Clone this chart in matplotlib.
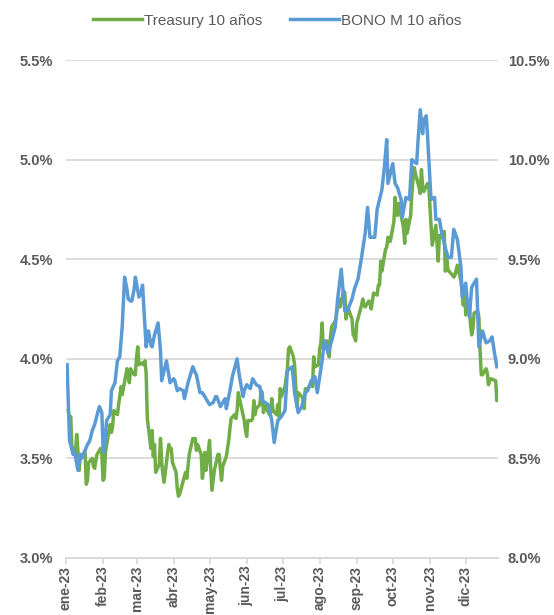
import matplotlib.pyplot as plt
from matplotlib.ticker import FuncFormatter
import pandas as pd

plt.rcParams['font.family'] = ['Liberation Sans', 'DejaVu Sans']
plt.rcParams['font.weight'] = 'bold'

# Treasury 10 años (eje izquierdo, %)
tsy_dates = [
    "01-03", "01-04", "01-05", "01-06", "01-09", "01-10", "01-11", "01-12", "01-13", "01-17",
    "01-18", "01-19", "01-20", "01-23", "01-24", "01-25", "01-26", "01-27", "01-30", "01-31",
    "02-01", "02-02", "02-03", "02-06", "02-07", "02-08", "02-09", "02-10", "02-13", "02-14",
    "02-15", "02-16", "02-17", "02-21", "02-22", "02-23", "02-24", "02-27", "02-28", "03-01",
    "03-02", "03-03", "03-06", "03-07", "03-08", "03-09", "03-10", "03-13", "03-14", "03-15",
    "03-16", "03-17", "03-20", "03-21", "03-22", "03-23", "03-24", "03-27", "03-28", "03-29",
    "03-30", "03-31", "04-03", "04-04", "04-05", "04-06", "04-10", "04-11", "04-12", "04-13",
    "04-14", "04-17", "04-18", "04-19", "04-20", "04-21", "04-24", "04-25", "04-26", "04-27",
    "04-28", "05-01", "05-02", "05-03", "05-04", "05-05", "05-08", "05-09", "05-10", "05-11",
    "05-12", "05-15", "05-16", "05-17", "05-18", "05-19", "05-22", "05-23", "05-24", "05-25",
    "05-26", "05-30", "05-31", "06-01", "06-02", "06-05", "06-06", "06-07", "06-08", "06-09",
    "06-12", "06-13", "06-14", "06-15", "06-16", "06-20", "06-21", "06-22", "06-23", "06-26",
    "06-27", "06-28", "06-29", "06-30", "07-03", "07-05", "07-06", "07-07", "07-10", "07-11",
    "07-12", "07-13", "07-14", "07-17", "07-18", "07-19", "07-20", "07-21", "07-24", "07-25",
    "07-26", "07-27", "07-28", "07-31", "08-01", "08-02", "08-03", "08-04", "08-07", "08-08",
    "08-09", "08-10", "08-11", "08-14", "08-15", "08-16", "08-17", "08-18", "08-21", "08-22",
    "08-23", "08-24", "08-25", "08-28", "08-29", "08-30", "08-31", "09-01", "09-05", "09-06",
    "09-07", "09-08", "09-11", "09-12", "09-13", "09-14", "09-15", "09-18", "09-19", "09-20",
    "09-21", "09-22", "09-25", "09-26", "09-27", "09-28", "09-29", "10-02", "10-03", "10-04",
    "10-05", "10-06", "10-10", "10-11", "10-12", "10-13", "10-16", "10-17", "10-18", "10-19",
    "10-20", "10-23", "10-24", "10-25", "10-26", "10-27", "10-30", "10-31", "11-01", "11-02",
    "11-03", "11-06", "11-07", "11-08", "11-09", "11-10", "11-13", "11-14", "11-15", "11-16",
    "11-17", "11-20", "11-21", "11-22", "11-24", "11-27", "11-28", "11-29", "11-30", "12-01",
    "12-04", "12-05", "12-06", "12-07", "12-08", "12-11", "12-12", "12-13", "12-14", "12-15",
    "12-18", "12-19", "12-20", "12-21", "12-22", "12-26", "12-27", "12-28",
]
tsy_values = [
    3.74, 3.69, 3.71, 3.56, 3.53, 3.62, 3.54, 3.44, 3.51, 3.53,
    3.37, 3.39, 3.48, 3.50, 3.46, 3.45, 3.49, 3.52, 3.55, 3.52,
    3.39, 3.40, 3.53, 3.64, 3.67, 3.63, 3.66, 3.74, 3.72, 3.77,
    3.81, 3.86, 3.82, 3.95, 3.92, 3.88, 3.95, 3.92, 3.92, 4.01,
    4.06, 3.97, 3.98, 3.97, 3.99, 3.93, 3.70, 3.55, 3.64, 3.51,
    3.57, 3.43, 3.47, 3.60, 3.48, 3.42, 3.38, 3.53, 3.57, 3.55,
    3.55, 3.48, 3.43, 3.35, 3.31, 3.32, 3.41, 3.43, 3.40, 3.46,
    3.52, 3.60, 3.59, 3.60, 3.54, 3.57, 3.52, 3.40, 3.45, 3.53,
    3.44, 3.59, 3.44, 3.34, 3.39, 3.44, 3.52, 3.52, 3.45, 3.39,
    3.46, 3.51, 3.55, 3.59, 3.65, 3.70, 3.72, 3.70, 3.74, 3.83,
    3.80, 3.69, 3.64, 3.61, 3.69, 3.69, 3.70, 3.79, 3.72, 3.75,
    3.77, 3.84, 3.83, 3.73, 3.77, 3.72, 3.73, 3.80, 3.74, 3.72,
    3.77, 3.71, 3.85, 3.81, 3.86, 3.95, 4.05, 4.06, 4.01, 3.97,
    3.86, 3.76, 3.83, 3.81, 3.80, 3.75, 3.85, 3.84, 3.87, 3.89,
    3.86, 4.01, 3.96, 3.97, 4.05, 4.08, 4.18, 4.05, 4.09, 4.03,
    4.01, 4.11, 4.16, 4.19, 4.22, 4.26, 4.30, 4.26, 4.34, 4.33,
    4.20, 4.24, 4.25, 4.20, 4.12, 4.11, 4.09, 4.18, 4.27, 4.30,
    4.27, 4.26, 4.29, 4.28, 4.25, 4.29, 4.33, 4.32, 4.37, 4.37,
    4.49, 4.44, 4.55, 4.56, 4.61, 4.59, 4.59, 4.69, 4.81, 4.73,
    4.72, 4.78, 4.66, 4.58, 4.70, 4.63, 4.72, 4.83, 4.90, 4.96,
    4.93, 4.86, 4.83, 4.95, 4.86, 4.84, 4.88, 4.88, 4.77, 4.67,
    4.57, 4.67, 4.58, 4.49, 4.62, 4.61, 4.64, 4.44, 4.53, 4.45,
    4.44, 4.42, 4.41, 4.42, 4.47, 4.39, 4.34, 4.27, 4.37, 4.22,
    4.28, 4.17, 4.12, 4.15, 4.23, 4.24, 4.21, 4.04, 3.92, 3.92,
    3.95, 3.93, 3.87, 3.89, 3.90, 3.89, 3.79, 3.84,
]

# BONO M 10 años (eje derecho, %)
mbono_dates = [
    "01-02", "01-04", "01-07", "01-08", "01-11", "01-13", "01-14", "01-17", "01-19", "01-21",
    "01-23", "01-25", "01-28", "01-29", "01-31", "02-01", "02-02", "02-04", "02-07", "02-08",
    "02-11", "02-13", "02-15", "02-17", "02-19", "02-21", "02-22", "02-24", "02-25", "02-27",
    "02-28", "03-03", "03-05", "03-06", "03-09", "03-11", "03-13", "03-14", "03-16", "03-19",
    "03-21", "03-22", "03-24", "03-26", "03-29", "04-01", "04-02", "04-04", "04-06", "04-09",
    "04-10", "04-13", "04-15", "04-17", "04-19", "04-20", "04-23", "04-25", "04-29", "05-01",
    "05-04", "05-06", "05-07", "05-10", "05-12", "05-14", "05-15", "05-18", "05-20", "05-24",
    "05-26", "05-29", "05-30", "06-01", "06-04", "06-06", "06-09", "06-12", "06-14", "06-19",
    "06-22", "06-24", "06-27", "06-30", "07-03", "07-05", "07-09", "07-11", "07-14", "07-17",
    "07-20", "07-22", "07-25", "07-28", "07-30", "08-03", "08-05", "08-08", "08-11", "08-14",
    "08-16", "08-19", "08-22", "08-24", "08-28", "08-30", "09-02", "09-05", "09-08", "09-10",
    "09-12", "09-16", "09-18", "09-22", "09-24", "09-26", "09-27", "10-01", "10-03", "10-05",
    "10-08", "10-09", "10-12", "10-15", "10-17", "10-21", "10-22", "10-24", "10-26", "10-27",
    "10-29", "10-30", "11-02", "11-05", "11-06", "11-09", "11-11", "11-13", "11-16", "11-19",
    "11-21", "11-24", "11-27", "11-28", "12-01", "12-02", "12-04", "12-06", "12-10", "12-12",
    "12-15", "12-18", "12-21", "12-23", "12-25", "12-27",
]
mbono_values = [
    8.97, 8.59, 8.52, 8.54, 8.44, 8.52, 8.50, 8.54, 8.57, 8.59,
    8.64, 8.67, 8.74, 8.76, 8.73, 8.56, 8.53, 8.69, 8.72, 8.84,
    8.88, 8.99, 9.01, 9.16, 9.41, 9.35, 9.30, 9.29, 9.29, 9.35,
    9.41, 9.31, 9.34, 9.37, 9.06, 9.14, 9.07, 9.06, 9.12, 9.18,
    9.04, 8.89, 8.94, 8.99, 8.88, 8.90, 8.89, 8.84, 8.85, 8.84,
    8.80, 8.88, 8.92, 8.96, 8.93, 8.92, 8.83, 8.83, 8.79, 8.77,
    8.78, 8.81, 8.81, 8.76, 8.78, 8.80, 8.75, 8.84, 8.91, 9.00,
    8.91, 8.81, 8.84, 8.87, 8.85, 8.90, 8.87, 8.86, 8.79, 8.77,
    8.69, 8.58, 8.69, 8.71, 8.74, 8.94, 8.96, 8.83, 8.73, 8.76,
    8.83, 8.84, 8.89, 8.91, 8.83, 8.99, 9.09, 9.03, 9.09, 9.16,
    9.30, 9.45, 9.24, 9.24, 9.30, 9.35, 9.40, 9.51, 9.63, 9.76,
    9.61, 9.61, 9.75, 9.85, 9.96, 10.10, 9.88, 9.98, 9.88, 9.86,
    9.80, 9.71, 9.81, 9.80, 10.00, 9.98, 10.08, 10.25, 10.13, 10.20,
    10.22, 10.13, 9.80, 9.81, 9.70, 9.70, 9.63, 9.58, 9.51, 9.51,
    9.65, 9.60, 9.46, 9.31, 9.38, 9.31, 9.21, 9.36, 9.40, 9.06,
    9.14, 9.08, 9.09, 9.11, 9.03, 8.96,
]

month_labels = ["ene-23", "feb-23", "mar-23", "abr-23", "may-23", "jun-23",
                "jul-23", "ago-23", "sep-23", "oct-23", "nov-23", "dic-23"]

tsy_x = pd.to_datetime(["2023-" + d for d in tsy_dates])
mbono_x = pd.to_datetime(["2023-" + d for d in mbono_dates])
month_ticks = pd.date_range("2023-01-01", periods=12, freq="MS")

green = '#70AD47'
blue = '#5B9BD5'
text_col = '#595959'
grid_col = '#D9D9D9'

fig = plt.figure(figsize=(5.54, 6.15), dpi=100)
ax1 = fig.add_axes([0.119, 0.0927, 0.780, 0.8097])
ax2 = ax1.twinx()

ax1.set_ylim(3.0, 5.5)
ax2.set_ylim(8.0, 10.5)
ax1.set_yticks([3.0, 3.5, 4.0, 4.5, 5.0, 5.5])
ax2.set_yticks([8.0, 8.5, 9.0, 9.5, 10.0, 10.5])
ax1.yaxis.grid(True, color=grid_col, linewidth=1.3)
ax1.set_axisbelow(True)

l1, = ax1.plot(tsy_x, tsy_values, color=green, linewidth=2.5, label='Treasury 10 años')
l2, = ax2.plot(mbono_x, mbono_values, color=blue, linewidth=2.5, label='BONO M 10 años')

ax1.set_xlim(pd.Timestamp("2023-01-01"), pd.Timestamp("2023-12-28"))
ax1.set_xticks(month_ticks)
ax1.set_xticklabels(month_labels, rotation=90)

pct = FuncFormatter(lambda v, p: f"{v:.1f}%")
ax1.yaxis.set_major_formatter(pct)
ax2.yaxis.set_major_formatter(pct)

for ax in (ax1, ax2):
    for s in ('top', 'left', 'right'):
        ax.spines[s].set_visible(False)
    ax.spines['bottom'].set_color(grid_col)
    ax.spines['bottom'].set_linewidth(1.3)
    ax.tick_params(axis='y', length=0, labelsize=10.5, labelcolor=text_col)
ax1.tick_params(axis='y', pad=9)
ax2.tick_params(axis='y', pad=7)
ax1.tick_params(axis='x', length=4, color=grid_col, width=1.3,
                labelsize=10, labelcolor=text_col, pad=1.5)

fig.legend(handles=[l1, l2], loc='upper center', bbox_to_anchor=(0.5, 1.0),
           ncol=2, frameon=False, labelcolor=text_col,
           prop={'size': 11, 'weight': 'normal'},
           handlelength=3.2, handletextpad=0.15, columnspacing=1.8)

fig.savefig('out.png', dpi=100)
